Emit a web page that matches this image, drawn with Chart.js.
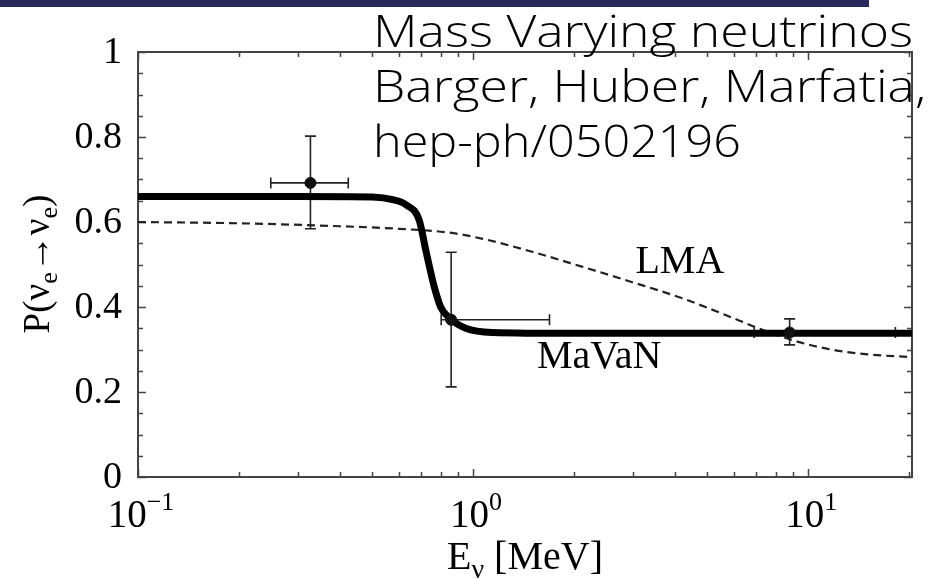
<!DOCTYPE html>
<html><head><meta charset="utf-8">
<script src="https://cdn.jsdelivr.net/npm/chart.js@4.4.0/dist/chart.umd.min.js"></script>
<style>html,body{margin:0;padding:0;background:#fff;}#wrap{width:931px;height:579px;position:relative;}</style>
</head><body><div id="wrap"><canvas id="c" width="931" height="579"></canvas></div>
<script>
// ---- data ----
const mavanE = [0.1, 0.3, 0.5, 0.58, 0.632, 0.69, 0.724, 0.766, 0.80, 0.85, 0.95, 1.14, 2.0, 20.4];
const mavanP = [0.66, 0.66, 0.659, 0.652, 0.64, 0.605, 0.53, 0.447, 0.40, 0.374, 0.35, 0.34, 0.338, 0.338];
const lmaE = [0.1, 0.2, 0.4, 0.6, 0.85, 1.06, 1.5, 2.11, 2.97, 4.19, 6.19, 7.1, 9.33, 11.7, 14.8, 20.4];
const lmaP = [0.600, 0.597, 0.590, 0.584, 0.575, 0.561, 0.530, 0.495, 0.459, 0.421, 0.369, 0.350, 0.318, 0.300, 0.289, 0.282];
const pointE = [0.327, 0.86, 8.8];
const pointP = [0.692, 0.37, 0.34];
const pointELow = [0.249, 0.803, 6.9];
const pointEHigh = [0.424, 1.69, 18.2];
const pointPLow = [0.584, 0.212, 0.311];
const pointPHigh = [0.802, 0.529, 0.372];
const yTicks = [0, 0.2, 0.4, 0.6, 0.8, 1];
const yTickLabels = ['0', '0.2', '0.4', '0.6', '0.8', '1'];
const xTicks = [0.1, 1, 10];
const xTickBase = ['10', '10', '10'];
const xTickExp = ['\u22121', '0', '1'];
const curveLabels = ['LMA', 'MaVaN'];
const curveLabelE = [3.05, 1.55];
const curveLabelP = [0.48, 0.256];
const titleLines = ['Mass Varying neutrinos', 'Barger, Huber, Marfatia,', 'hep-ph/0502196'];
const xTitleParts = [['E', 0], ['\u03BD', 1], [' [MeV]', 0]];
const yTitleParts = [['P(', 0], ['\u03BD', 0], ['e', 1], ['\u2192', 0], ['\u03BD', 0], ['e', 1], [')', 0]];

const SERIF = '"Liberation Serif", "DejaVu Serif", serif';

function toXY(xs, ys) { return xs.map((x, i) => ({ x: x, y: ys[i] })); }

function drawRich(ctx, parts, size, x, y) {
  const subSize = Math.round(size * 0.7);
  let total = 0;
  parts.forEach(p => { ctx.font = (p[1] ? subSize : size) + 'px ' + SERIF; total += ctx.measureText(p[0]).width; });
  let cx = x - total / 2;
  ctx.textAlign = 'left';
  ctx.textBaseline = 'alphabetic';
  parts.forEach(p => {
    ctx.font = (p[1] ? subSize : size) + 'px ' + SERIF;
    ctx.fillText(p[0], cx, y + (p[1] ? size * 0.22 : 0));
    cx += ctx.measureText(p[0]).width;
  });
}

const deco = {
  id: 'deco',
  beforeDraw(chart) {
    const ctx = chart.ctx;
    ctx.save();
    ctx.fillStyle = '#ffffff';
    ctx.fillRect(0, 0, chart.width, chart.height);
    ctx.fillStyle = '#27295a';
    ctx.fillRect(0, 0, 869, 7);
    ctx.restore();
  },
  beforeDatasetsDraw(chart) {
    const ctx = chart.ctx, a = chart.chartArea;
    const xs = chart.scales.x, ys = chart.scales.y;
    ctx.save();
    ctx.strokeStyle = '#444';
    ctx.lineWidth = 2;
    ctx.strokeRect(a.left, a.top, a.right - a.left, a.bottom - a.top);
    ctx.lineWidth = 1.5;
    for (let i = 0; i <= 20; i++) {
      const v = i * 0.05;
      const py = Math.round(ys.getPixelForValue(v)) + 0.5;
      const len = (i % 4 === 0) ? 8 : 5;
      ctx.beginPath();
      ctx.moveTo(a.left, py); ctx.lineTo(a.left + len, py);
      ctx.moveTo(a.right, py); ctx.lineTo(a.right - len, py);
      ctx.stroke();
    }
    const xmin = xs.min, xmax = xs.max;
    for (let d = 0.1; d < xmax; d *= 10) {
      for (let m = 1; m <= 9; m++) {
        const v = d * m;
        if (v < xmin * 0.999 || v > xmax) continue;
        const px = Math.round(xs.getPixelForValue(v)) + 0.5;
        const len = (m === 1) ? 8 : 5;
        ctx.beginPath();
        ctx.moveTo(px, a.bottom); ctx.lineTo(px, a.bottom - len);
        ctx.moveTo(px, a.top); ctx.lineTo(px, a.top + len);
        ctx.stroke();
      }
    }
    ctx.strokeStyle = '#222';
    ctx.lineWidth = 1.6;
    const cap = 5.5;
    for (let i = 0; i < pointE.length; i++) {
      const px = xs.getPixelForValue(pointE[i]);
      const py = ys.getPixelForValue(pointP[i]);
      const x0 = xs.getPixelForValue(pointELow[i]);
      const x1 = xs.getPixelForValue(pointEHigh[i]);
      const y0 = ys.getPixelForValue(pointPLow[i]);
      const y1 = ys.getPixelForValue(pointPHigh[i]);
      ctx.beginPath();
      ctx.moveTo(x0, py); ctx.lineTo(x1, py);
      ctx.moveTo(x0, py - cap); ctx.lineTo(x0, py + cap);
      ctx.moveTo(x1, py - cap); ctx.lineTo(x1, py + cap);
      ctx.moveTo(px, y0); ctx.lineTo(px, y1);
      ctx.moveTo(px - cap, y0); ctx.lineTo(px + cap, y0);
      ctx.moveTo(px - cap, y1); ctx.lineTo(px + cap, y1);
      ctx.stroke();
    }
    ctx.restore();
  },
  afterDraw(chart) {
    const ctx = chart.ctx, a = chart.chartArea;
    const xs = chart.scales.x, ys = chart.scales.y;
    ctx.save();
    ctx.fillStyle = '#000';
    ctx.font = '38px ' + SERIF;
    ctx.textAlign = 'right';
    ctx.textBaseline = 'middle';
    yTicks.forEach((v, i) => {
      ctx.fillText(yTickLabels[i], a.left - 16, ys.getPixelForValue(v) + 1);
    });
    ctx.textBaseline = 'alphabetic';
    xTicks.forEach((v, i) => {
      const px = xs.getPixelForValue(v);
      ctx.font = '39px ' + SERIF;
      const wb = ctx.measureText(xTickBase[i]).width;
      ctx.font = '26px ' + SERIF;
      const we = ctx.measureText(xTickExp[i]).width;
      const start = px - (wb + we) / 2 + 3;
      ctx.textAlign = 'left';
      ctx.font = '39px ' + SERIF;
      ctx.fillText(xTickBase[i], start, 527);
      ctx.font = '26px ' + SERIF;
      ctx.fillText(xTickExp[i], start + wb, 510);
    });
    drawRich(ctx, xTitleParts, 40, 525, 569);
    ctx.save();
    ctx.translate(49, 264);
    ctx.rotate(-Math.PI / 2);
    drawRich(ctx, yTitleParts, 37, 0, 0);
    ctx.restore();
    ctx.font = '40px ' + SERIF;
    ctx.textAlign = 'left';
    ctx.textBaseline = 'alphabetic';
    curveLabels.forEach((t, i) => {
      ctx.fillText(t, xs.getPixelForValue(curveLabelE[i]), ys.getPixelForValue(curveLabelP[i]));
    });
    ctx.font = '300 44px "Open Sans", "DejaVu Sans", sans-serif';
    const targetW = [540, 553, 368];
    const base = [47, 102, 157];
    titleLines.forEach((t, i) => {
      const w = ctx.measureText(t).width;
      ctx.save();
      ctx.translate(373, base[i]);
      ctx.scale(targetW[i] / w, 1);
      ctx.fillText(t, 0, 0);
      ctx.restore();
    });
    ctx.restore();
  }
};

new Chart(document.getElementById('c'), {
  type: 'scatter',
  data: {
    datasets: [
      { label: 'data', data: toXY(pointE, pointP), pointRadius: 5.5, pointBackgroundColor: '#111', pointBorderColor: '#111', showLine: false },
      { label: 'MaVaN', data: toXY(mavanE, mavanP), showLine: true, borderColor: '#000', borderWidth: 7, pointRadius: 0, cubicInterpolationMode: 'monotone', fill: false },
      { label: 'LMA', data: toXY(lmaE, lmaP), showLine: true, borderColor: '#222', borderWidth: 2.2, borderDash: [8, 5], pointRadius: 0, cubicInterpolationMode: 'monotone', fill: false }
    ]
  },
  options: {
    responsive: false,
    animation: false,
    devicePixelRatio: 1,
    layout: { padding: { left: 138, right: 19, top: 52, bottom: 102 } },
    plugins: { legend: { display: false }, tooltip: { enabled: false } },
    scales: {
      x: { type: 'logarithmic', display: false, min: 0.1, max: 20.4 },
      y: { type: 'linear', display: false, min: 0, max: 1 }
    }
  },
  plugins: [deco]
});
</script>
</body></html>
